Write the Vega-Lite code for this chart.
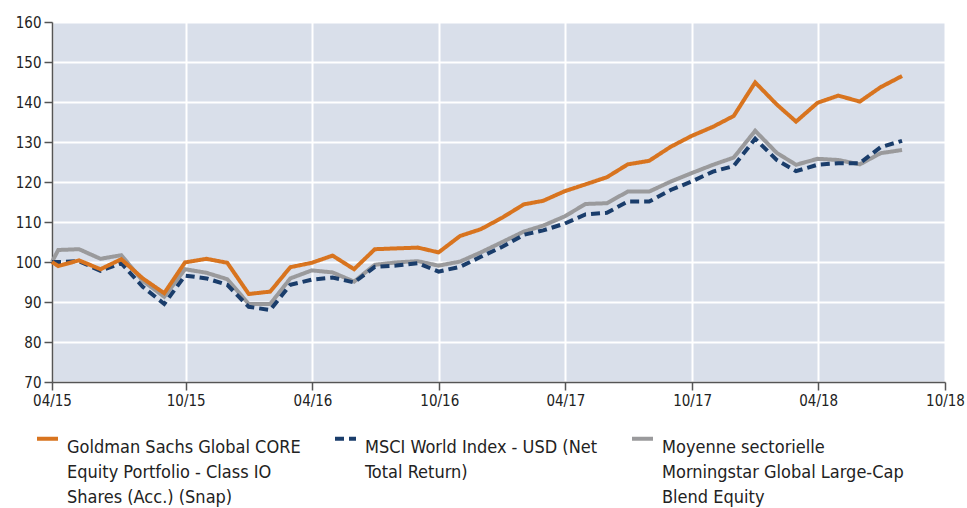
{
  "$schema": "https://vega.github.io/schema/vega-lite/v6.json",
  "width": 893,
  "height": 360,
  "autosize": {"type": "none"},
  "padding": {"left": 52, "top": 22, "right": 22, "bottom": 126},
  "background": "#ffffff",
  "data": {
    "values": [
      {"date": "2015-03-22", "GS": 100, "MSCI": 100, "CAT": 100},
      {"date": "2015-03-31", "GS": 99.0, "MSCI": 100.0, "CAT": 103.0},
      {"date": "2015-04-30", "GS": 100.4, "MSCI": 100.2, "CAT": 103.2},
      {"date": "2015-05-31", "GS": 98.2, "MSCI": 97.8, "CAT": 100.8},
      {"date": "2015-06-30", "GS": 100.7, "MSCI": 99.7, "CAT": 101.7},
      {"date": "2015-07-31", "GS": 95.9, "MSCI": 93.8, "CAT": 95.3},
      {"date": "2015-08-31", "GS": 92.2, "MSCI": 89.5, "CAT": 91.3},
      {"date": "2015-09-30", "GS": 99.9, "MSCI": 96.6, "CAT": 98.2},
      {"date": "2015-10-31", "GS": 100.8, "MSCI": 95.9, "CAT": 97.3},
      {"date": "2015-11-30", "GS": 99.8, "MSCI": 94.3, "CAT": 95.7},
      {"date": "2015-12-31", "GS": 92.0, "MSCI": 88.8, "CAT": 89.5},
      {"date": "2016-01-31", "GS": 92.6, "MSCI": 88.0, "CAT": 89.5},
      {"date": "2016-02-29", "GS": 98.7, "MSCI": 94.3, "CAT": 95.9},
      {"date": "2016-03-31", "GS": 99.8, "MSCI": 95.6, "CAT": 97.9},
      {"date": "2016-04-30", "GS": 101.6, "MSCI": 96.1, "CAT": 97.4},
      {"date": "2016-05-31", "GS": 98.2, "MSCI": 94.9, "CAT": 95.1},
      {"date": "2016-06-30", "GS": 103.2, "MSCI": 98.8, "CAT": 99.3},
      {"date": "2016-07-31", "GS": 103.4, "MSCI": 99.1, "CAT": 99.9},
      {"date": "2016-08-31", "GS": 103.6, "MSCI": 99.7, "CAT": 100.2},
      {"date": "2016-09-30", "GS": 102.4, "MSCI": 97.6, "CAT": 99.1},
      {"date": "2016-10-31", "GS": 106.5, "MSCI": 98.8, "CAT": 100.1},
      {"date": "2016-11-30", "GS": 108.2, "MSCI": 101.3, "CAT": 102.4},
      {"date": "2016-12-31", "GS": 111.1, "MSCI": 103.8, "CAT": 105.0},
      {"date": "2017-01-31", "GS": 114.4, "MSCI": 106.8, "CAT": 107.6},
      {"date": "2017-02-28", "GS": 115.3, "MSCI": 107.9, "CAT": 109.1},
      {"date": "2017-03-31", "GS": 117.7, "MSCI": 109.6, "CAT": 111.4},
      {"date": "2017-04-30", "GS": 119.4, "MSCI": 111.9, "CAT": 114.5},
      {"date": "2017-05-31", "GS": 121.2, "MSCI": 112.3, "CAT": 114.7},
      {"date": "2017-06-30", "GS": 124.4, "MSCI": 115.1, "CAT": 117.6},
      {"date": "2017-07-31", "GS": 125.3, "MSCI": 115.1, "CAT": 117.6},
      {"date": "2017-08-31", "GS": 128.8, "MSCI": 118.0, "CAT": 120.1},
      {"date": "2017-09-30", "GS": 131.5, "MSCI": 120.1, "CAT": 122.2},
      {"date": "2017-10-31", "GS": 133.8, "MSCI": 122.6, "CAT": 124.3},
      {"date": "2017-11-30", "GS": 136.5, "MSCI": 124.0, "CAT": 126.1},
      {"date": "2017-12-31", "GS": 144.9, "MSCI": 130.8, "CAT": 132.8},
      {"date": "2018-01-31", "GS": 139.4, "MSCI": 125.5, "CAT": 127.3},
      {"date": "2018-02-28", "GS": 135.1, "MSCI": 122.7, "CAT": 124.3},
      {"date": "2018-03-31", "GS": 139.8, "MSCI": 124.3, "CAT": 125.8},
      {"date": "2018-04-30", "GS": 141.6, "MSCI": 124.7, "CAT": 125.5},
      {"date": "2018-05-31", "GS": 140.1, "MSCI": 124.7, "CAT": 124.4},
      {"date": "2018-06-30", "GS": 143.7, "MSCI": 128.7, "CAT": 127.2},
      {"date": "2018-07-31", "GS": 146.5, "MSCI": 130.3, "CAT": 128.0}
    ]
  },
  "transform": [
    {"fold": ["GS", "MSCI", "CAT"], "as": ["series", "value"]}
  ],
  "encoding": {
    "x": {
      "field": "date",
      "type": "temporal",
      "scale": {"type": "utc", "domain": [{"year": 2015, "month": 3, "date": 22, "utc": true}, {"year": 2018, "month": 10, "date": 1, "utc": true}]},
      "axis": {
        "title": null,
        "values": [
          {"year": 2015, "month": 3, "date": 22, "utc": true},
          {"year": 2015, "month": 10, "date": 1, "utc": true},
          {"year": 2016, "month": 4, "date": 1, "utc": true},
          {"year": 2016, "month": 10, "date": 1, "utc": true},
          {"year": 2017, "month": 4, "date": 1, "utc": true},
          {"year": 2017, "month": 10, "date": 1, "utc": true},
          {"year": 2018, "month": 4, "date": 1, "utc": true},
          {"year": 2018, "month": 10, "date": 1, "utc": true}
        ],
        "labelExpr": "utcFormat(datum.value, '%m/%y') == '03/15' ? '04/15' : utcFormat(datum.value, '%m/%y')",
        "grid": true,
        "gridColor": "#ffffff",
        "gridWidth": 2,
        "labelFlush": false,
        "labelOverlap": false,
        "labelPadding": 3,
        "tickSize": 8
      }
    },
    "y": {
      "field": "value",
      "type": "quantitative",
      "scale": {"domain": [70, 160], "nice": false, "zero": false},
      "axis": {
        "title": null,
        "values": [70, 80, 90, 100, 110, 120, 130, 140, 150, 160],
        "grid": true,
        "gridColor": "#ffffff",
        "gridWidth": 2,
        "tickSize": 8,
        "labelPadding": 3
      }
    },
    "color": {
      "field": "series",
      "type": "nominal",
      "scale": {"domain": ["GS", "MSCI", "CAT"], "range": ["#d8741f", "#1a3d6b", "#9a9a9c"]},
      "legend": {
        "title": null,
        "orient": "none",
        "legendX": -17,
        "legendY": 404,
        "direction": "horizontal",
        "columnPadding": 26,
        "padding": 0,
        "symbolType": "stroke",
        "symbolSize": 441,
        "symbolStrokeWidth": 4,
        "labelOffset": 7,
        "labelBaseline": "top",
        "labelLimit": 500,
        "labelFontSize": 18,
        "labelExpr": "datum.label == 'GS' ? ['Goldman Sachs Global CORE', 'Equity Portfolio - Class IO', 'Shares (Acc.) (Snap)'] : datum.label == 'MSCI' ? ['MSCI World Index - USD (Net', 'Total Return)', ' '] : ['Moyenne sectorielle', 'Morningstar Global Large-Cap', 'Blend Equity']"
      }
    },
    "strokeDash": {
      "field": "series",
      "type": "nominal",
      "scale": {"domain": ["GS", "MSCI", "CAT"], "range": [[1, 0], [9, 5], [1, 0]]},
      "legend": null
    }
  },
  "layer": [
    {"transform": [{"filter": "datum.series == 'CAT'"}], "mark": {"type": "line", "strokeWidth": 4, "strokeCap": "butt"}},
    {"transform": [{"filter": "datum.series == 'MSCI'"}], "mark": {"type": "line", "strokeWidth": 4, "strokeCap": "butt"}},
    {"transform": [{"filter": "datum.series == 'GS'"}], "mark": {"type": "line", "strokeWidth": 4, "strokeCap": "butt"}}
  ],
  "config": {
    "font": "DejaVu Sans Condensed, sans-serif",
    "view": {"fill": "#d9dfea", "stroke": null},
    "axis": {
      "labelFont": "DejaVu Sans Condensed, sans-serif",
      "labelFontSize": 15,
      "labelColor": "#222222",
      "domainColor": "#555555",
      "domainWidth": 1.5,
      "tickColor": "#555555",
      "tickWidth": 1.5
    },
    "legend": {
      "labelFont": "DejaVu Sans Condensed, sans-serif",
      "labelColor": "#222222"
    },
    "style": {"guide-label": {"lineHeight": 25}}
  }
}
